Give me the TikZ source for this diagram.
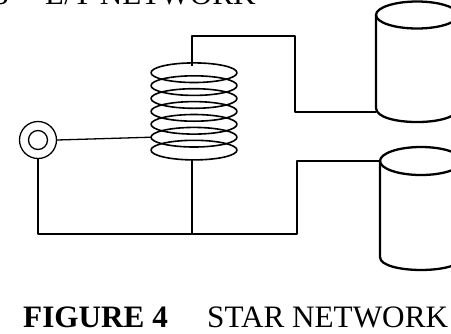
\documentclass[tikz,border=0pt]{standalone}
\usepackage{fontspec}
\setmainfont{Liberation Serif}
\begin{document}
\begin{tikzpicture}[x=1bp,y=-1bp,line join=round,
  wire/.style={line width=1.3bp},
  turn/.style={line width=1.6bp},
  drum/.style={line width=2.3bp},
  capfont/.style={font=\fontsize{31.3}{37}\selectfont,inner sep=0pt,anchor=base west}]
\useasboundingbox (0,0) rectangle (451,333);

% Caption of the figure above (cut off by the page)
\node[capfont] (prevnum) at (-7,4) {3};
\node[capfont] (prevtext) at (45,4) {L/T NETWORK};

% Coil
\draw[turn] (194,72.7) ellipse [x radius=43bp, y radius=9.8bp];
\draw[turn] (194,85.6) ellipse [x radius=43bp, y radius=9.8bp];
\draw[turn] (194,98.5) ellipse [x radius=43bp, y radius=9.8bp];
\draw[turn] (194,111.4) ellipse [x radius=43bp, y radius=9.8bp];
\draw[turn] (194,124.3) ellipse [x radius=43bp, y radius=9.8bp];
\draw[turn] (194,137.2) ellipse [x radius=43bp, y radius=9.8bp];
\draw[turn] (194,150.1) ellipse [x radius=43bp, y radius=9.8bp];
\coordinate (coiltop) at (192,66);
\coordinate (coilbot) at (192,160);
\coordinate (tap) at (151,137.2);

% Terminal
\node[draw,circle,wire,minimum size=37bp,inner sep=0pt] (jack) at (38,140) {};
\node[draw,circle,wire,minimum size=19bp,inner sep=0pt] (jackcore) at (jack) {};

% Upper drum
\draw[drum] (417,15) ellipse [x radius=41bp, y radius=13.5bp];
\draw[drum] (376,15) -- (376,108) .. controls (376,126.7) and (458,126.7) .. (458,108) -- (458,15);
\coordinate (disk1w) at (376,112);

% Lower drum
\draw[drum] (421,161) ellipse [x radius=41bp, y radius=14bp];
\draw[drum] (380,161) -- (380,257) .. controls (380,274.3) and (462,274.3) .. (462,257) -- (462,161);
\coordinate (disk2w) at (380,161);

% Wires
\coordinate (bend1) at (295,36);
\coordinate (bend2) at (297,234);
\draw[wire] (jack.east) -- (tap);
\draw[wire] (coiltop) |- (bend1) |- (disk1w);
\draw[wire] (jack.south) |- (bend2) |- (disk2w);
\draw[wire] (coilbot) -- (coilbot |- bend2);

% Caption
\node[capfont,font=\fontsize{31.3}{37}\selectfont\bfseries] (fignum) at (23,327) {FIGURE 4};
\node[capfont] (figtext) at (207,327) {STAR NETWORK};
\end{tikzpicture}
\end{document}
